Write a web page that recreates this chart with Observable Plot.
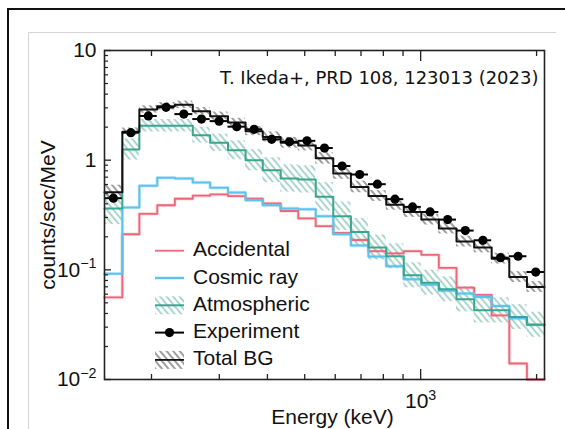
<!DOCTYPE html>
<html><head><meta charset="utf-8">
<script src="https://cdn.jsdelivr.net/npm/d3@7"></script>
<script src="https://cdn.jsdelivr.net/npm/@observablehq/plot@0.6"></script>
<style>
html,body{margin:0;padding:0;background:#fff;}
#wrap{position:relative;width:565px;height:429px;overflow:hidden;font-family:"Liberation Sans",Arial,sans-serif;}
#outer{position:absolute;left:7px;top:8px;width:700px;height:700px;border-top:2px solid #111;border-left:2px solid #111;}
#inner{position:absolute;left:28px;top:32px;width:527px;height:700px;border-top:1px solid #d4d4d4;border-left:1px solid #d4d4d4;}
#chart{position:absolute;left:0;top:0;}
#legend{position:absolute;left:0;top:0;}
</style></head>
<body><div id="wrap"><div id="outer"></div><div id="inner"></div><div id="chart"></div><svg id="legend" width="565" height="429"></svg></div>
<script>
// ---- data ----
const binEdges = [151, 168, 186, 207, 230, 256, 284, 316, 351, 389, 433, 481, 534, 593, 659, 732, 814, 904, 1004, 1115, 1239, 1377, 1529, 1699, 1888, 2097];
const accidental = [0.056, 0.211, 0.324, 0.388, 0.445, 0.474, 0.487, 0.471, 0.445, 0.403, 0.344, 0.294, 0.250, 0.217, 0.187, 0.148, 0.141, 0.148, 0.137, 0.104, 0.0687, 0.0591, 0.0384, 0.0140, 0.0100];
const cosmicRay = [0.092, 0.370, 0.585, 0.692, 0.680, 0.627, 0.561, 0.508, 0.431, 0.388, 0.362, 0.356, 0.308, 0.211, 0.167, 0.132, 0.108, 0.082, 0.0733, 0.0643, 0.0610, 0.0566, 0.0469, 0.0361, 0.0316];
const atmospheric = [0.362, 1.25, 2.06, 2.06, 2.06, 1.69, 1.44, 1.23, 1.00, 0.81, 0.681, 0.668, 0.463, 0.308, 0.221, 0.160, 0.133, 0.0891, 0.0764, 0.0664, 0.0538, 0.0427, 0.0427, 0.0371, 0.0316];
const atmosphericErr = [0.40, 0.25, 0.14, 0.14, 0.14, 0.18, 0.20, 0.22, 0.25, 0.30, 0.33, 0.33, 0.35, 0.35, 0.33, 0.30, 0.30, 0.30, 0.30, 0.30, 0.30, 0.30, 0.30, 0.30, 0.30];
const totalBG = [0.510, 1.82, 2.9, 3.1, 3.2, 2.80, 2.52, 2.21, 1.84, 1.63, 1.44, 1.36, 1.04, 0.756, 0.570, 0.471, 0.392, 0.337, 0.287, 0.238, 0.181, 0.160, 0.1265, 0.0859, 0.0697];
const totalBGErr = [0.16, 0.08, 0.08, 0.08, 0.08, 0.08, 0.09, 0.09, 0.10, 0.11, 0.12, 0.12, 0.13, 0.13, 0.13, 0.12, 0.12, 0.12, 0.12, 0.12, 0.12, 0.12, 0.12, 0.12, 0.12];
const experiment = [0.450, 1.78, 2.53, 3.03, 2.63, 2.37, 2.27, 2.02, 1.91, 1.55, 1.47, 1.50, 1.29, 0.885, 0.740, 0.604, 0.441, 0.375, 0.337, 0.287, 0.228, 0.186, 0.129, 0.133, 0.0955];

const xMinorTicks = [200, 300, 400, 500, 600, 700, 800, 900, 2000];
const xMajorTicks = [1000];
const xTickLabels = ["10^3"];
const yMajorTicks = [0.01, 0.1, 1, 10];
const yMinorTicks = [0.02,0.03,0.04,0.05,0.06,0.07,0.08,0.09,0.2,0.3,0.4,0.5,0.6,0.7,0.8,0.9,2,3,4,5,6,7,8,9];
const yTickLabels = ["10^\u22122", "10^\u22121", "1", "10"];
const seriesNames = ["Accidental", "Cosmic ray", "Atmospheric", "Experiment", "Total BG"];
const titleText = "T. Ikeda+, PRD 108, 123013 (2023)";
const xLabel = "Energy (keV)";
const yLabel = "counts/sec/MeV";

// ---- styles ----
const C = {acc: "#ee6677", cos: "#5cc3ea", atm: "#3aa58e", tot: "#111111", hatchTot: "#6a6a6a", hatchAtm: "#8fc9bb"};
const FONT = "Liberation Sans, Arial, sans-serif";

const bins = binEdges.slice(0, -1).map((lo, i) => ({
  i, lo, hi: binEdges[i + 1], mid: Math.sqrt(lo * binEdges[i + 1]),
  acc: accidental[i], cos: cosmicRay[i], atm: atmospheric[i], atmErr: atmosphericErr[i],
  tot: totalBG[i], totErr: totalBGErr[i], exp: experiment[i]
}));
const steps = (arr) => bins.flatMap(b => [{x: b.lo, y: arr[b.i]}, {x: b.hi, y: arr[b.i]}]);
const xLab = new Map(xMajorTicks.map((t, i) => [t, xTickLabels[i]]));
const yLab = new Map(yMajorTicks.map((t, i) => [t, yTickLabels[i]]));

function defsMark() {
  const defs = d3.create("svg:defs");
  const mk = (id, color, w) => {
    const p = defs.append("pattern").attr("id", id).attr("patternUnits", "userSpaceOnUse")
      .attr("width", 5).attr("height", 5).attr("patternTransform", "rotate(-40)");
    p.append("line").attr("x1", 2).attr("y1", -1).attr("x2", 2).attr("y2", 6)
      .attr("stroke", color).attr("stroke-width", w);
  };
  mk("hatchTot", C.hatchTot, 1.3);
  mk("hatchAtm", C.hatchAtm, 1.5);
  return defs.node();
}

const chart = Plot.plot({
  width: 565, height: 429,
  marginLeft: 104, marginRight: 21, marginTop: 50, marginBottom: 50,
  style: {background: "none", fontFamily: FONT, fontSize: "21px", color: "#111", overflow: "visible"},
  x: {type: "log", domain: [binEdges[0], binEdges[binEdges.length - 1]], axis: null},
  y: {type: "log", domain: [0.01, 10], axis: null},
  marks: [
    defsMark,
    Plot.rect(bins, {x1: "lo", x2: "hi", y1: d => d.atm / (1 + d.atmErr), y2: d => d.atm * (1 + d.atmErr), fill: "url(#hatchAtm)"}),
    Plot.rect(bins, {x1: "lo", x2: "hi", y1: d => d.tot / (1 + d.totErr), y2: d => d.tot * (1 + d.totErr), fill: "url(#hatchTot)"}),
    Plot.line(steps(accidental), {x: "x", y: "y", stroke: C.acc, strokeWidth: 3.5, strokeOpacity: 0.25}),
    Plot.line(steps(accidental), {x: "x", y: "y", stroke: C.acc, strokeWidth: 1.8}),
    Plot.line(steps(cosmicRay), {x: "x", y: "y", stroke: C.cos, strokeWidth: 3.5, strokeOpacity: 0.3}),
    Plot.line(steps(cosmicRay), {x: "x", y: "y", stroke: C.cos, strokeWidth: 2}),
    Plot.line(steps(atmospheric), {x: "x", y: "y", stroke: C.atm, strokeWidth: 2}),
    Plot.line(steps(totalBG), {x: "x", y: "y", stroke: C.tot, strokeWidth: 2}),
    Plot.ruleY(bins, {x1: "lo", x2: "hi", y: "exp", stroke: "#000", strokeWidth: 2}),
    Plot.dot(bins, {x: "mid", y: "exp", r: 4.6, fill: "#000", stroke: "none"}),
    Plot.frame({stroke: "#222", strokeWidth: 1.6}),
    // ticks (inward)
    Plot.axisX({anchor: "bottom", ticks: xMinorTicks, tickSize: -5, fill: "none", label: null, stroke: "#222", strokeWidth: 1.3}),
    Plot.axisX({anchor: "bottom", ticks: xMajorTicks, tickSize: -10, fill: "none", label: null, stroke: "#222", strokeWidth: 1.3}),
    Plot.axisX({anchor: "top", ticks: xMinorTicks, tickSize: -5, fill: "none", label: null, stroke: "#222", strokeWidth: 1.3}),
    Plot.axisX({anchor: "top", ticks: xMajorTicks, tickSize: -10, fill: "none", label: null, stroke: "#222", strokeWidth: 1.3}),
    Plot.axisY({anchor: "left", ticks: yMinorTicks, tickSize: -4, fill: "none", label: null, stroke: "#222", strokeWidth: 1.2}),
    Plot.axisY({anchor: "left", ticks: yMajorTicks, tickSize: -7, fill: "none", label: null, stroke: "#222", strokeWidth: 1.3}),
    // tick labels
    Plot.axisX({anchor: "bottom", ticks: xMajorTicks, tickSize: 0, tickPadding: 14, tickFormat: d => xLab.get(d), label: null, fontSize: 21, fill: "#111"}),
    Plot.axisY({anchor: "left", ticks: yMajorTicks, tickSize: 0, tickPadding: 8, tickFormat: d => yLab.get(d), label: null, fontSize: 21, fill: "#111"}),
    // texts
    Plot.text([titleText], {frameAnchor: "top-right", dx: -6, dy: 21, textAnchor: "end", lineAnchor: "top", fontSize: 18, fontFamily: "DejaVu Sans", fill: "#111"}),
    Plot.text([xLabel], {frameAnchor: "bottom", dx: 8, dy: 44, textAnchor: "middle", fontSize: 21, fill: "#111"}),
    Plot.text([yLabel], {frameAnchor: "left", dx: -56, rotate: -90, textAnchor: "middle", lineAnchor: "middle", fontSize: 21, fill: "#111"})
  ]
});
document.getElementById("chart").appendChild(chart);

// superscripts for "a^b" labels
const NS = "http://www.w3.org/2000/svg";
chart.querySelectorAll("text").forEach(t => {
  const s = t.textContent;
  if (!s.includes("^")) return;
  const [b, e] = s.split("^");
  t.textContent = "";
  const t1 = document.createElementNS(NS, "tspan"); t1.textContent = b; t.appendChild(t1);
  const t2 = document.createElementNS(NS, "tspan"); t2.textContent = e;
  t2.setAttribute("dy", "-0.6em"); t2.setAttribute("font-size", "0.68em"); t.appendChild(t2);
});

// legend (inside the frame)
const lg = d3.select("#legend");
const lx0 = 155, lx1 = 184, ltx = 193, ly0 = 250.7, ldy = 27.3;
seriesNames.forEach((name, i) => {
  const y = ly0 + i * ldy;
  const g = lg.append("g");
  if (name === "Accidental") {
    g.append("line").attr("x1", lx0).attr("x2", lx1).attr("y1", y).attr("y2", y).attr("stroke", C.acc).attr("stroke-width", 1.8);
  } else if (name === "Cosmic ray") {
    g.append("line").attr("x1", lx0).attr("x2", lx1).attr("y1", y).attr("y2", y).attr("stroke", C.cos).attr("stroke-opacity", 0.3).attr("stroke-width", 3.5);
    g.append("line").attr("x1", lx0).attr("x2", lx1).attr("y1", y).attr("y2", y).attr("stroke", C.cos).attr("stroke-width", 2);
  } else if (name === "Atmospheric") {
    g.append("rect").attr("x", lx0).attr("y", y - 9).attr("width", lx1 - lx0).attr("height", 18).attr("fill", "url(#hatchAtm)");
    g.append("line").attr("x1", lx0).attr("x2", lx1).attr("y1", y).attr("y2", y).attr("stroke", C.atm).attr("stroke-width", 2);
  } else if (name === "Experiment") {
    g.append("line").attr("x1", lx0).attr("x2", lx1).attr("y1", y).attr("y2", y).attr("stroke", "#000").attr("stroke-width", 2);
    g.append("circle").attr("cx", (lx0 + lx1) / 2).attr("cy", y).attr("r", 4.6).attr("fill", "#000");
  } else {
    g.append("rect").attr("x", lx0).attr("y", y - 9).attr("width", lx1 - lx0).attr("height", 18).attr("fill", "url(#hatchTot)");
    g.append("line").attr("x1", lx0).attr("x2", lx1).attr("y1", y).attr("y2", y).attr("stroke", C.tot).attr("stroke-width", 1.8);
  }
  g.append("text").attr("x", ltx).attr("y", y + 5.5).attr("font-family", FONT).attr("font-size", 21).attr("fill", "#111").text(name);
});
</script>
</body></html>
